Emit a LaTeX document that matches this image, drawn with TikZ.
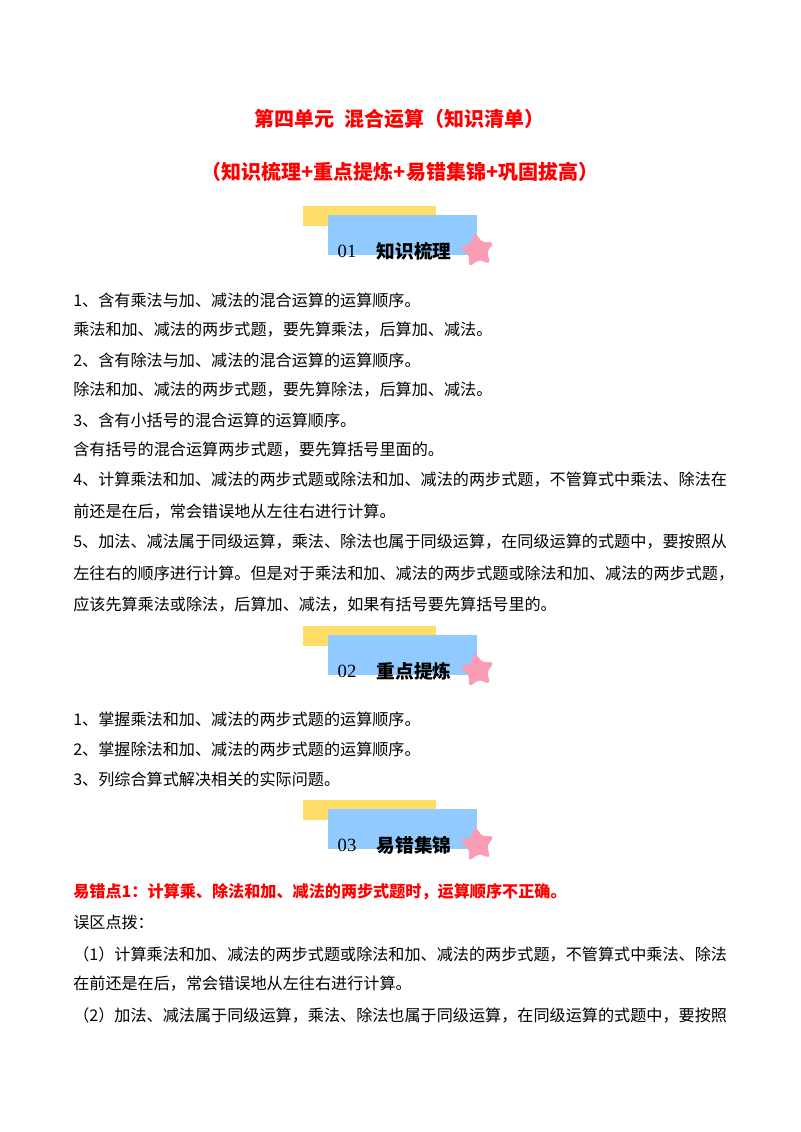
\documentclass[tikz,border=0pt]{standalone}
\usepackage{fontspec}
\setmainfont{Noto Sans CJK SC}
\newfontfamily\numfont{Liberation Serif}
\usetikzlibrary{shapes.geometric}
\definecolor{bandyellow}{HTML}{FFDD66}
\definecolor{bandblue}{HTML}{90CAFF}
\definecolor{bandpink}{HTML}{F99CB4}
\tikzset{
  bodyline/.style={anchor=west,inner sep=0pt,font=\fontsize{12.09pt}{14pt}\selectfont},
  redline/.style={bodyline,text=red,font=\fontsize{12.09pt}{14pt}\selectfont\bfseries},
  titleline/.style={inner sep=0pt,text=red,font=\fontsize{15pt}{18pt}\selectfont\bfseries},
  bandnum/.style={inner sep=0pt,font=\fontsize{14pt}{16pt}\numfont},
  bandtitle/.style={inner sep=0pt,font=\fontsize{14pt}{16pt}\selectfont\bfseries},
  bandstar/.style={star,star points=5,star point ratio=1.95,fill=bandpink,draw=bandpink,rounded corners=2.5pt,minimum size=27pt,inner sep=0pt,rotate=8}
}
\begin{document}
\begin{tikzpicture}[x=0.75pt,y=-0.75pt]
\useasboundingbox (0,0) rectangle (800,1132);
\node[titleline] (title1) at (399.5,119) {第四单元\hspace{4pt} 混合运算（知识清单）};
\node[titleline] (title2) at (400,172) {（知识梳理+重点提炼+易错集锦+巩固拔高）};
% banners
\foreach \ypos/\num/\name in {0/01/知识梳理,420/02/重点提炼,594/03/易错集锦}{
  \fill[bandyellow] (303,206+\ypos) rectangle (436,226+\ypos);
  \fill[bandblue] (328,215+\ypos) rectangle (477,255+\ypos);
  \node[bandstar] (star\num) at (477.5,250.5+\ypos) {};
  \node[bandnum] (num\num) at (347,251+\ypos) {\num};
  \node[bandtitle] (name\num) at (414,251+\ypos) {\name};
}
% section 01
\node[bodyline] (a1) at (73,300) {1、含有乘法与加、减法的混合运算的运算顺序。};
\node[bodyline] (a2) at (73,330) {乘法和加、减法的两步式题，要先算乘法，后算加、减法。};
\node[bodyline] (a3) at (73,360) {2、含有除法与加、减法的混合运算的运算顺序。};
\node[bodyline] (a4) at (73,390) {除法和加、减法的两步式题，要先算除法，后算加、减法。};
\node[bodyline] (a5) at (73,420) {3、含有小括号的混合运算的运算顺序。};
\node[bodyline] (a6) at (73,450) {含有括号的混合运算两步式题，要先算括号里面的。};
\node[bodyline] (a7) at (73,480) {4、计算乘法和加、减法的两步式题或除法和加、减法的两步式题，不管算式中乘法、除法在};
\node[bodyline] (a8) at (73,512) {前还是在后，常会错误地从左往右进行计算。};
\node[bodyline] (a9) at (73,542) {5、加法、减法属于同级运算，乘法、除法也属于同级运算，在同级运算的式题中，要按照从};
\node[bodyline] (a10) at (73,574) {左往右的顺序进行计算。但是对于乘法和加、减法的两步式题或除法和加、减法的两步式题，};
\node[bodyline] (a11) at (73,605) {应该先算乘法或除法，后算加、减法，如果有括号要先算括号里的。};
% section 02
\node[bodyline] (b1) at (73,719) {1、掌握乘法和加、减法的两步式题的运算顺序。};
\node[bodyline] (b2) at (73,749) {2、掌握除法和加、减法的两步式题的运算顺序。};
\node[bodyline] (b3) at (73,779) {3、列综合算式解决相关的实际问题。};
% section 03
\node[redline] (c1) at (73,892) {易错点1：计算乘、除法和加、减法的两步式题时，运算顺序不正确。};
\node[bodyline] (c2) at (73,922) {误区点拨：};
\node[bodyline] (c3) at (73,954) {（1）计算乘法和加、减法的两步式题或除法和加、减法的两步式题，不管算式中乘法、除法};
\node[bodyline] (c4) at (73,984) {在前还是在后，常会错误地从左往右进行计算。};
\node[bodyline] (c5) at (73,1015) {（2）加法、减法属于同级运算，乘法、除法也属于同级运算，在同级运算的式题中，要按照};
\end{tikzpicture}
\end{document}
